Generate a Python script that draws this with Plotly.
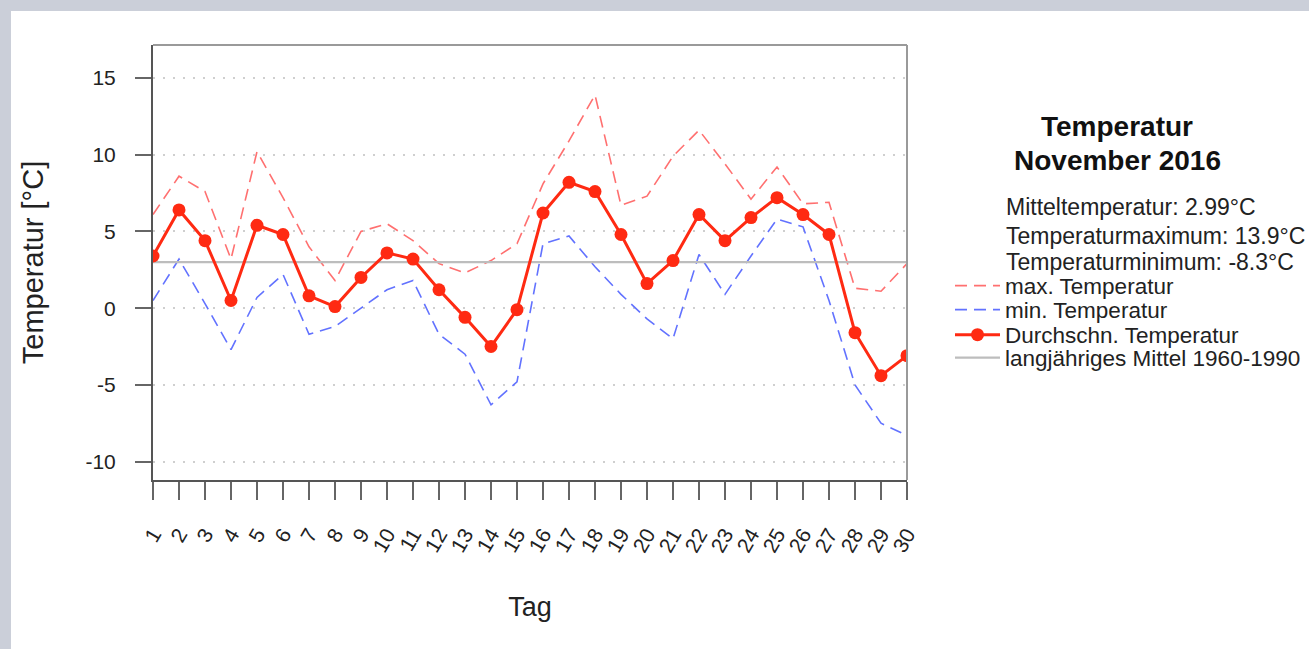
import plotly.graph_objects as go

# ---------------- data ----------------
days = list(range(1, 31))
day_labels = [str(d) for d in days]
t_max = [6.1, 8.6, 7.6, 3.2, 10.2, 7.2, 4.0, 1.8, 5.0, 5.5,
         4.4, 2.9, 2.3, 3.1, 4.2, 8.1, 10.9, 13.9, 6.7, 7.3,
         9.9, 11.6, 9.4, 7.1, 9.2, 6.8, 6.9, 1.3, 1.1, 2.9]
t_min = [0.5, 3.2, 0.3, -2.7, 0.7, 2.2, -1.7, -1.2, 0.0, 1.2,
         1.8, -1.7, -3.0, -6.3, -4.8, 4.2, 4.7, 2.7, 0.9, -0.7,
         -2.0, 3.5, 0.9, 3.4, 5.8, 5.3, 0.5, -5.0, -7.5, -8.3]
t_mean = [3.4, 6.4, 4.4, 0.5, 5.4, 4.8, 0.8, 0.1, 2.0, 3.6,
          3.2, 1.2, -0.6, -2.5, -0.1, 6.2, 8.2, 7.6, 4.8, 1.6,
          3.1, 6.1, 4.4, 5.9, 7.2, 6.1, 4.8, -1.6, -4.4, -3.1]
longterm_mean = 3.0
y_ticks = [-10, -5, 0, 5, 10, 15]
y_tick_labels = ["-10", "-5", "0", "5", "10", "15"]

stats_lines = ["Mitteltemperatur: 2.99°C",
               "Temperaturmaximum: 13.9°C",
               "Temperaturminimum: -8.3°C"]
series_names = ["max. Temperatur", "min. Temperatur",
                "Durchschn. Temperatur", "langjähriges Mittel 1960-1990"]

# ---------------- layout helpers ----------------
W, H = 1309, 649
L, R, T, B = 153, 402, 45, 169
PW, PH = W - L - R, H - T - B
FONT = "Liberation Sans, Arial, Helvetica, sans-serif"


def px(xp):
    return (xp - L) / PW


def py(yp):
    return (H - B - yp) / PH


fig = go.Figure()

fig.add_trace(go.Scatter(x=days, y=t_max, mode="lines", name=series_names[0],
                         line=dict(color="#ff7070", width=1.6, dash="12px,7px"),
                         legend="legend"))
fig.add_trace(go.Scatter(x=days, y=t_min, mode="lines", name=series_names[1],
                         line=dict(color="#6272ff", width=1.6, dash="12px,7px"),
                         legend="legend2"))
fig.add_trace(go.Scatter(x=days, y=[longterm_mean] * len(days), mode="lines",
                         name=series_names[3],
                         line=dict(color="#bdbdbd", width=2.2),
                         legend="legend4"))
fig.add_trace(go.Scatter(x=days, y=t_mean, mode="lines+markers", name=series_names[2],
                         line=dict(color="#ff2a12", width=3),
                         marker=dict(color="#ff2a12", size=13),
                         legend="legend3"))

legend_y = [286, 310, 335, 358]
common_leg = dict(x=px(950), xanchor="left", yanchor="middle",
                  bgcolor="rgba(0,0,0,0)", itemwidth=45, visible=True,
                  font=dict(family=FONT, size=22.5, color="#222222"))
fig.update_layout(
    showlegend=True,
    legend=dict(y=py(legend_y[0]), **common_leg),
    legend2=dict(y=py(legend_y[1]), **common_leg),
    legend3=dict(y=py(legend_y[2]), **common_leg),
    legend4=dict(y=py(legend_y[3]), **common_leg),
)

annotations = [
    dict(text="<b>Temperatur</b>", x=px(1117), y=py(127), xanchor="center", yanchor="middle",
         font=dict(family=FONT, size=28, color="#111111")),
    dict(text="<b>November 2016</b>", x=px(1117), y=py(160), xanchor="center", yanchor="middle",
         font=dict(family=FONT, size=28, color="#111111")),
]
for txt, yy in zip(stats_lines, [207, 236, 262]):
    annotations.append(dict(text=txt, x=px(1004), y=py(yy), xanchor="left", yanchor="middle",
                            font=dict(family=FONT, size=23, color="#222222")))
for a in annotations:
    a.update(xref="paper", yref="paper", showarrow=False)

shapes = [
    # grey frame strips of the page
    dict(type="rect", xref="paper", yref="paper", x0=px(-20), x1=px(W + 20), y0=py(11), y1=py(-20),
         fillcolor="#cbcfd9", line=dict(width=0), layer="below"),
    dict(type="rect", xref="paper", yref="paper", x0=px(-20), x1=px(11), y0=py(H + 20), y1=py(-20),
         fillcolor="#cbcfd9", line=dict(width=0), layer="below"),
    # top and right box lines
    dict(type="line", xref="paper", yref="paper", x0=0, x1=1, y0=1, y1=1,
         line=dict(color="#9a9a9a", width=2)),
    dict(type="line", xref="paper", yref="paper", x0=1, x1=1, y0=0, y1=1,
         line=dict(color="#9a9a9a", width=2)),
]

fig.update_layout(
    width=W, height=H,
    margin=dict(l=L, r=R, t=T, b=B, autoexpand=False),
    paper_bgcolor="white", plot_bgcolor="white",
    font=dict(family=FONT, color="#222222"),
    annotations=annotations, shapes=shapes,
    xaxis=dict(range=[1, 30], tickmode="array", tickvals=days, ticktext=day_labels,
               tickangle=-60, ticks="outside", ticklen=18, tickwidth=2, tickcolor="#666666",
               showline=True, linecolor="#555555", linewidth=2,
               showgrid=False, zeroline=False, ticklabelstandoff=14,
               tickfont=dict(family=FONT, size=21, color="#222222"),
               title=dict(text="Tag", standoff=42, font=dict(family=FONT, size=27, color="#222222"))),
    yaxis=dict(range=[-11.2, 17.15], tickmode="array", tickvals=y_ticks, ticktext=y_tick_labels,
               ticks="outside", ticklen=16, tickwidth=2, tickcolor="#666666",
               showline=True, linecolor="#555555", linewidth=2,
               showgrid=True, gridcolor="#cfcfcf", gridwidth=1.5, griddash="2px,8px",
               zeroline=False, ticklabelstandoff=15,
               tickfont=dict(family=FONT, size=21, color="#222222"),
               title=dict(text="Temperatur [°C]", standoff=33,
                          font=dict(family=FONT, size=29, color="#222222"))),
)

fig.write_html("out.html",
               config={"displayModeBar": False},
               post_script="document.body.style.margin='0';"
                           "document.body.style.overflow='hidden';")
